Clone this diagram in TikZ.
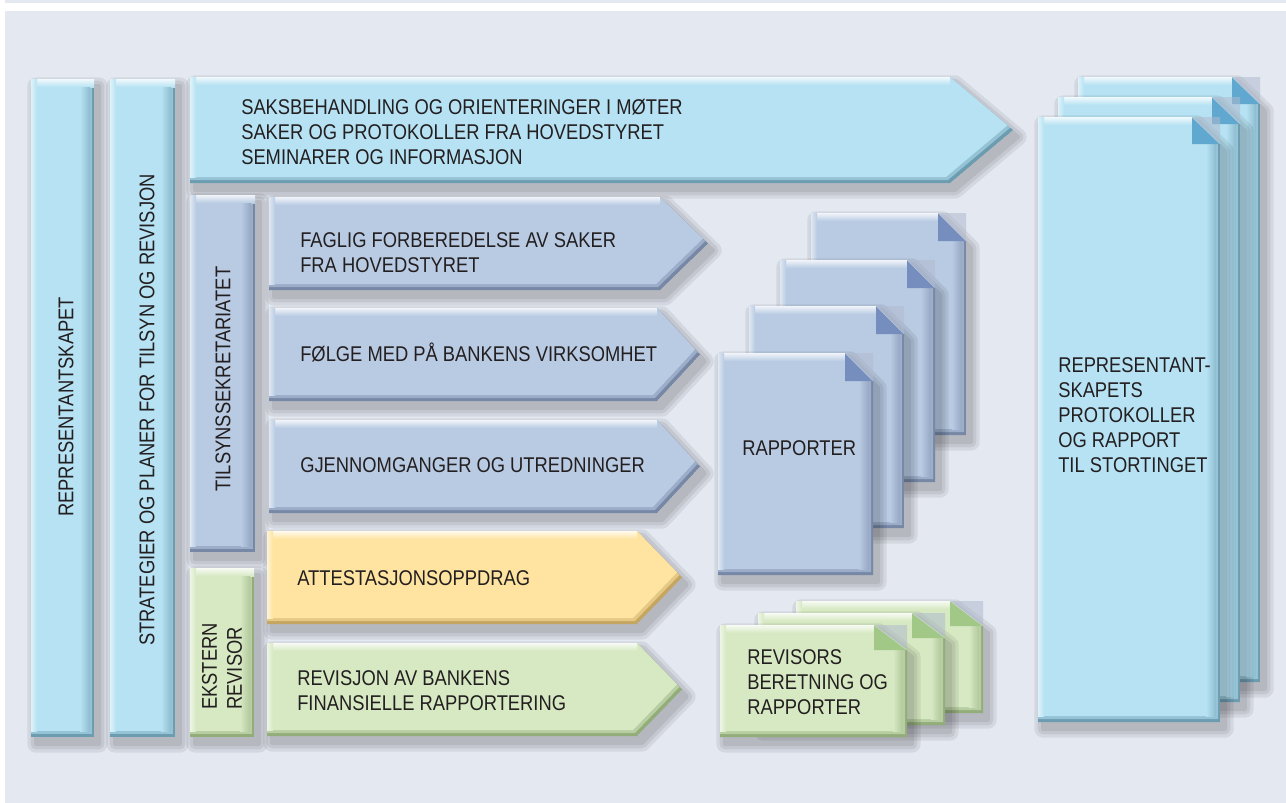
\documentclass[tikz,border=0pt]{standalone}
\usepackage{fontspec}
\setmainfont{Liberation Sans}[FakeStretch=0.86]
\definecolor{panel}{RGB}{228,232,241}
\definecolor{lb}{RGB}{182,226,243}
\definecolor{lbd}{RGB}{108,156,176}
\definecolor{lbf}{RGB}{96,168,208}
\definecolor{st}{RGB}{185,203,227}
\definecolor{std}{RGB}{118,136,166}
\definecolor{stf}{RGB}{118,142,190}
\definecolor{ye}{RGB}{254,228,160}
\definecolor{yed}{RGB}{196,166,98}
\definecolor{gr}{RGB}{215,233,195}
\definecolor{grd}{RGB}{146,172,122}
\definecolor{grf}{RGB}{162,200,136}
\definecolor{foldbg}{RGB}{176,186,206}
\definecolor{txt}{RGB}{35,31,32}
\tikzset{lbl/.style={font=\fontsize{16}{18.75}\selectfont, text=txt, inner sep=0pt, align=left}}
\newcommand\softshadow[1]{%
  \foreach \w in {13,8,3}{%
    \begin{scope}[transparency group, opacity=0.07]
      \filldraw[black, line width=\w pt, line join=round, shift={(5,7)}] #1;
    \end{scope}}}
\newcommand\bev[7]{% path, x1,y1,x2,y2, base, dark
  \softshadow{#1}
  \begin{scope}
    \clip #1;
    \fill[#7] #1;
    \fill[#7!45!#6, shift={(-2,-3)}] #1;
    \fill[#6, shift={(-4,-6)}] #1;
    \shade[top color=white!80!#6, bottom color=#6] (#2,#3) rectangle (#4,#3+8);
    \shade[left color=white!55!#6, right color=#6] (#2,#3) rectangle (#2+6,#5-6);
  \end{scope}}
\newcommand\brect[6]{%
  \bev{(#1,#2) rectangle (#3,#4)}{#1}{#2}{#3}{#4}{#5}{#6}
  \shade[left color=#5, right color=#6!55!#5] (#3-14,#2+8) rectangle (#3-4,#4-6);}
\newcommand\barrow[7]{% x1,y1,xs,xt,y2,base,dark
  \bev{(#1,#2) -- (#3,#2) -- (#4,{(#2+#5)/2}) -- (#3,#5) -- (#1,#5) -- cycle}{#1}{#2}{#3}{#5}{#6}{#7}}
\newcommand\bpage[9]{% x1,y1,x2,y2,cx,cy,base,dark,fold
  \bev{(#1,#2) -- (#3-#5,#2) -- (#3,#2+#6) -- (#3,#4) -- (#1,#4) -- cycle}{#1}{#2}{#3-#5}{#4}{#7}{#8}
  \shade[left color=#7, right color=#8!55!#7] (#3-14,#2+#6) rectangle (#3-4,#4-6);
  \fill[#9] (#3-#5,#2) -- (#3-#5,#2+#6) -- (#3,#2+#6) -- cycle;
  \fill[foldbg, opacity=.55] (#3-#5,#2) -- (#3,#2) -- (#3,#2+#6) -- cycle;
  \draw[white, opacity=.35, line width=.4pt] (#3-#5,#2) -- (#3,#2+#6);}
\begin{document}
\begin{tikzpicture}[x=0.75pt,y=-0.75pt]
\useasboundingbox (0,0) rectangle (1286,803);
\fill[white] (0,0) rectangle (1286,803);
\fill[panel] (5,0) rectangle (1286,3);
\fill[panel] (5,11) rectangle (1286,803);
% columns
\brect{31}{79}{94}{737}{lb}{lbd}
\brect{110}{79}{175}{737}{lb}{lbd}
% top arrow
\barrow{190}{77}{950}{1013}{183}{lb}{lbd}
% tilsyn & ekstern
\brect{190}{195}{255}{552}{st}{std}
\brect{190}{568}{254}{737}{gr}{grd}
% arrows
\barrow{269}{197}{660}{708}{290}{st}{std}
\barrow{269}{308}{657}{700}{401}{st}{std}
\barrow{269}{420}{657}{700}{513}{st}{std}
\barrow{267}{531}{637}{682}{624}{ye}{yed}
\barrow{267}{643}{637}{682}{736}{gr}{grd}
% rapporter stack
\bpage{811}{213}{966}{435}{28}{28}{st}{std}{stf}
\bpage{780}{260}{935}{482}{28}{28}{st}{std}{stf}
\bpage{749}{306}{904}{528}{28}{28}{st}{std}{stf}
\bpage{718}{353}{873}{575}{28}{28}{st}{std}{stf}
% revisors stack
\bpage{796}{601}{983}{713}{33}{25}{gr}{grd}{grf}
\bpage{758}{613}{945}{725}{33}{25}{gr}{grd}{grf}
\bpage{720}{625}{907}{737}{33}{25}{gr}{grd}{grf}
% right stack
\bpage{1078}{77}{1260}{682}{28}{27}{lb}{lbd}{lbf}
\bpage{1058}{97}{1240}{702}{28}{27}{lb}{lbd}{lbf}
\bpage{1038}{117}{1220}{722}{28}{27}{lb}{lbd}{lbf}
% texts
\node[lbl, rotate=90] (rep) at (66,407) {REPRESENTANTSKAPET};
\node[lbl, rotate=90] (strat) at (147,410) {STRATEGIER OG PLANER FOR TILSYN OG REVISJON};
\node[lbl, rotate=90] (tilsyn) at (223,379) {TILSYNSSEKRETARIATET};
\node[lbl, rotate=90, anchor=west] (ekstern) at (222,710) {EKSTERN\\REVISOR};
\node[lbl, anchor=west] (saks) at (241,131.5) {SAKSBEHANDLING OG ORIENTERINGER I MØTER\\SAKER OG PROTOKOLLER FRA HOVEDSTYRET\\SEMINARER OG INFORMASJON};
\node[lbl, anchor=west] (faglig) at (300,252.5) {FAGLIG FORBEREDELSE AV SAKER\\FRA HOVEDSTYRET};
\node[lbl, anchor=west] (folge) at (300,352) {FØLGE MED PÅ BANKENS VIRKSOMHET};
\node[lbl, anchor=west] (gjenn) at (300,465) {GJENNOMGANGER OG UTREDNINGER};
\node[lbl, anchor=west] (attest) at (297,578) {ATTESTASJONSOPPDRAG};
\node[lbl, anchor=west] (revisjon) at (297,690.5) {REVISJON AV BANKENS\\FINANSIELLE RAPPORTERING};
\node[lbl, anchor=west] (rapp) at (742,448) {RAPPORTER};
\node[lbl, anchor=west] (revisors) at (747,682) {REVISORS\\BERETNING OG\\RAPPORTER};
\node[lbl, anchor=west] (protok) at (1058,415.5) {REPRESENTANT-\\SKAPETS\\PROTOKOLLER\\OG RAPPORT\\TIL STORTINGET};
\end{tikzpicture}
\end{document}
